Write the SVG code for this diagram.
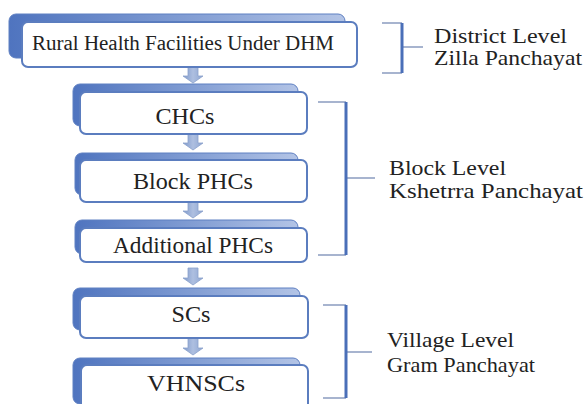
<svg xmlns="http://www.w3.org/2000/svg" width="585" height="404" viewBox="0 0 585 404">
<defs>
<linearGradient id="backGrad" x1="0" y1="0" x2="1" y2="0">
<stop offset="0" stop-color="#4f74bf"/>
<stop offset="0.5" stop-color="#7f9bd2"/>
<stop offset="1" stop-color="#b3c4e6"/>
</linearGradient>
<linearGradient id="arrowGrad" x1="0" y1="0" x2="1" y2="0">
<stop offset="0" stop-color="#7f9acb"/>
<stop offset="0.5" stop-color="#aebfe0"/>
<stop offset="1" stop-color="#8ea6d2"/>
</linearGradient>
<path id="arr" d="M-5,0 H5 V10 H10 L0,17 L-10,10 H-5 Z"/>
</defs>
<style>
.back{fill:url(#backGrad);stroke:#5f80c2;stroke-width:1}
.front{fill:#ffffff;stroke:#5b7dbf;stroke-width:2}
.lbl{font-family:"Liberation Serif","Times New Roman",serif;fill:#222;text-anchor:middle}
.side{font-family:"Liberation Serif","Times New Roman",serif;fill:#222;font-size:21px}
.br{fill:none;stroke:#8a9cc0;stroke-width:1.5}
.brv{fill:none;stroke:#4a6fb8;stroke-width:3}
.arrow{fill:url(#arrowGrad);stroke:#8aa1cc;stroke-width:0.8}
</style>
<rect width="585" height="404" fill="#ffffff"/>

<g id="connectors">
<use href="#arr" class="arrow" transform="translate(193,66)"/>
<use href="#arr" class="arrow" transform="translate(193,133)"/>
<use href="#arr" class="arrow" transform="translate(193,201)"/>
<use href="#arr" class="arrow" transform="translate(193,268)"/>
<use href="#arr" class="arrow" transform="translate(193,338)"/>
</g>

<g id="n-dhm">
<rect class="back" x="9" y="14" width="336" height="44" rx="7"/>
<rect class="front" x="22" y="22" width="335" height="45" rx="6"/>
<text class="lbl" x="183" y="50" font-size="20" textLength="302" lengthAdjust="spacingAndGlyphs">Rural Health Facilities Under DHM</text>
</g>

<g id="n-chc">
<rect class="back" x="73" y="84" width="225" height="42" rx="7"/>
<rect class="front" x="80" y="92" width="227" height="42" rx="6"/>
<text class="lbl" x="185" y="124" font-size="23" textLength="59" lengthAdjust="spacingAndGlyphs">CHCs</text>
</g>

<g id="n-bphc">
<rect class="back" x="75" y="153" width="223" height="42" rx="7"/>
<rect class="front" x="80" y="160" width="227" height="42" rx="6"/>
<text class="lbl" x="193" y="189" font-size="23" textLength="120" lengthAdjust="spacingAndGlyphs">Block PHCs</text>
</g>

<g id="n-aphc">
<rect class="back" x="75" y="220" width="223" height="34" rx="7"/>
<rect class="front" x="80" y="228" width="227" height="34" rx="6"/>
<text class="lbl" x="193" y="253" font-size="23" textLength="160" lengthAdjust="spacingAndGlyphs">Additional PHCs</text>
</g>

<g id="n-sc">
<rect class="back" x="73" y="288" width="227" height="42" rx="7"/>
<rect class="front" x="80" y="296" width="228" height="42" rx="6"/>
<text class="lbl" x="191" y="322" font-size="23" textLength="39" lengthAdjust="spacingAndGlyphs">SCs</text>
</g>

<g id="n-vhnsc">
<rect class="back" x="73" y="358" width="227" height="46" rx="7"/>
<rect class="front" x="81" y="365" width="227" height="50" rx="6"/>
<text class="lbl" x="196" y="391" font-size="23" textLength="98" lengthAdjust="spacingAndGlyphs">VHNSCs</text>
</g>

<g id="b-district">
<path class="br" d="M382,23 H402 M382,73 H402 M402,47 H423"/>
<path class="brv" d="M402,23 V73"/>
<text class="side" x="434" y="43" textLength="133" lengthAdjust="spacingAndGlyphs">District Level</text>
<text class="side" x="434" y="65" textLength="148" lengthAdjust="spacingAndGlyphs">Zilla Panchayat</text>
</g>

<g id="b-block">
<path class="br" d="M318,102 H346 M318,255 H346 M347,178 H375"/>
<path class="brv" d="M346,102 V255"/>
<text class="side" x="389" y="175" textLength="117" lengthAdjust="spacingAndGlyphs">Block Level</text>
<text class="side" x="389" y="198" textLength="194" lengthAdjust="spacingAndGlyphs">Kshetrra Panchayat</text>
</g>

<g id="b-village">
<path class="br" d="M323,305 H346 M323,398 H346 M347,352 H372"/>
<path class="brv" d="M346,305 V398"/>
<text class="side" x="387" y="347" textLength="127" lengthAdjust="spacingAndGlyphs">Village Level</text>
<text class="side" x="387" y="372" textLength="148" lengthAdjust="spacingAndGlyphs">Gram Panchayat</text>
</g>
</svg>
